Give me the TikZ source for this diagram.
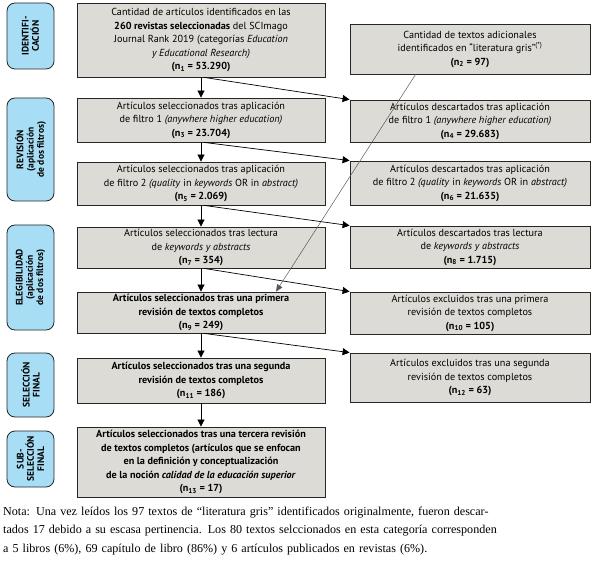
\documentclass[tikz,border=0pt]{standalone}
\usepackage{fontspec}
\setmainfont{Liberation Serif}
\newfontfamily\cajafont{PT Sans}
\usepackage{xcolor}
\usetikzlibrary{positioning, arrows.meta, calc}

\definecolor{grisbox}{RGB}{221,219,214}
\definecolor{celeste}{RGB}{168,222,245}

\begin{document}
\begin{tikzpicture}[x=1pt, y=-1pt,
		caja/.style={draw=black!85, fill=grisbox, line width=0.8pt, minimum width=248pt,
			align=center, inner sep=0pt, font=\cajafont\fontsize{10.2}{13.5}\selectfont},
		cajader/.style={caja, minimum width=240pt},
		fase/.style={draw=black!85, fill=celeste, line width=0.8pt, rounded corners=8pt,
			rotate=90, minimum height=47pt, align=center, inner sep=0pt,
			font=\cajafont\bfseries\fontsize{9.5}{10.2}\selectfont},
		flecha/.style={-{Triangle[length=7pt, width=7pt]}, line width=0.7pt},
		gris/.style={-{Triangle[length=7pt, width=6pt]}, line width=0.5pt, draw=black!65},
		]
		\useasboundingbox (0,0) rectangle (597,564);
		
		%% ── FASES ───────────────────────────────────────────────
		\node[fase, minimum width=66pt]  (F1) at (30.5,36)    {IDENTIFI-\\CACIÓN};
		\node[fase, minimum width=103pt] (F2) at (30.5,149.5) {REVISIÓN\\(aplicación\\de dos filtros)};
		\node[fase, minimum width=105pt] (F3) at (30.5,277.5) {ELEGIBILIDAD\\(aplicación\\de dos filtros)};
		\node[fase, minimum width=64pt]  (F4) at (30.5,385)   {SELECCIÓN\\FINAL};
		\node[fase, minimum width=56pt]  (F5) at (30.5,459)   {SUB-\\SELECCIÓN\\FINAL};
		
		%% ── COLUMNA IZQUIERDA ───────────────────────────────────
		\node[caja, minimum height=74pt] (L1) at (201,40) {Cantidad de artículos identificados en las\\
			\textbf{260 revistas seleccionadas} del SCImago\\
			Journal Rank 2019 (categorías \textit{Education}\\
			\textit{y Educational Research)}\\
			\textbf{(n\textsubscript{1} = 53.290)}};
		\node[caja, minimum height=44pt] (L3) at (201,120) {Artículos seleccionados tras aplicación\\
			de filtro 1 \textit{(anywhere higher education)}\\
			\textbf{(n\textsubscript{3} = 23.704)}};
		\node[caja, minimum height=43pt] (L5) at (201,183.5) {Artículos seleccionados tras aplicación\\
			de filtro 2 \textit{(quality} in \textit{keywords} OR in \textit{abstract)}\\
			\textbf{(n\textsubscript{5} = 2.069)}};
		\node[caja, minimum height=41pt] (L7) at (201,247.5) {Artículos seleccionados tras lectura\\
			de \textit{keywords y abstracts}\\
			\textbf{(n\textsubscript{7} = 354)}};
		\node[caja, minimum height=41pt] (L9) at (201,312.5) {\textbf{Artículos seleccionados tras una primera}\\
			\textbf{revisión de textos completos}\\
			\textbf{(n\textsubscript{9} = 249)}};
		\node[caja, minimum height=45pt] (L11) at (201,380.5) {\textbf{Artículos seleccionados tras una segunda}\\
			\textbf{revisión de textos completos}\\
			\textbf{(n\textsubscript{11} = 186)}};
		\node[caja, minimum height=70pt] (L13) at (201,462) {\textbf{Artículos seleccionados tras una tercera revisión}\\
			\textbf{de textos completos (artículos que se enfocan}\\
			\textbf{en la definición y conceptualización}\\
			\textbf{de la noción \textit{calidad de la educación superior}}\\
			\textbf{(n\textsubscript{13} = 17)}};
		
		%% ── COLUMNA DERECHA ─────────────────────────────────────
		\node[cajader, minimum height=50pt] (R2) at (470,49) {Cantidad de textos adicionales\\
			identificados en “literatura gris”\textsuperscript{(*)}\\
			\textbf{(n\textsubscript{2} = 97)}};
		\node[cajader, minimum height=42pt] (R4) at (470,121) {Artículos descartados tras aplicación\\
			de filtro 1 \textit{(anywhere higher education)}\\
			\textbf{(n\textsubscript{4} = 29.683)}};
		\node[cajader, minimum height=44pt] (R6) at (470,183) {Artículos descartados tras aplicación\\
			de filtro 2 \textit{(quality} in \textit{keywords} OR in \textit{abstract)}\\
			\textbf{(n\textsubscript{6} = 21.635)}};
		\node[cajader, minimum height=42pt] (R8) at (470,247) {Artículos descartados tras lectura\\
			de \textit{keywords y abstracts}\\
			\textbf{(n\textsubscript{8} = 1.715)}};
		\node[cajader, minimum height=42pt] (R10) at (470,313) {Artículos excluidos tras una primera\\
			revisión de textos completos\\
			\textbf{(n\textsubscript{10} = 105)}};
		\node[cajader, minimum height=49pt] (R12) at (470,377.5) {Artículos excluidos tras una segunda\\
			revisión de textos completos\\
			\textbf{(n\textsubscript{12} = 63)}};
		
		%% ── FLECHAS ─────────────────────────────────────────────
		\draw[flecha] (L1) -- (L3);
		\draw[flecha] (L3) -- (L5);
		\draw[flecha] (L5) -- (L7);
		\draw[flecha] (L7) -- (L9);
		\draw[flecha] (L9) -- (L11);
		\draw[flecha] (L11) -- (L13);
		
		% descartes
		\draw[flecha] ($(L1.south)+(3,0)$) -- (R4.north west);
		\draw[flecha] ($(L3.south)+(3,0)$) -- (R6.north west);
		\draw[flecha] ($(L5.south)+(3,0)$) -- (R8.north west);
		\draw[flecha] ($(L7.south)+(3,0)$) -- (R10.north west);
		\draw[flecha] ($(L9.south)+(3,0)$) -- (R12.north west);
		
		% literatura gris
		\coordinate (gA) at ($(R2.south west)+(66,0)$);
		\coordinate (gB) at ($(L9.north)+(75,0)$);
		\draw[gris] (gA) -- (gB);
		
		%% ── NOTA ────────────────────────────────────────────────
		\node[anchor=north west, inner sep=0pt, text width=591pt, align=left,
		font=\fontsize{12.1}{18.2}\selectfont] (nota) at (3,507)
		{\makebox[\linewidth][s]{Nota: Una vez leídos los 97 textos de “literatura gris” identificados originalmente, fueron descar-}\\
			\makebox[\linewidth][s]{tados 17 debido a su escasa pertinencia. Los 80 textos selccionados en esta categoría corresponden}\\
			a 5 libros (6\%), 69 capítulo de libro (86\%) y 6 artículos publicados en revistas (6\%).};
		
	\end{tikzpicture}
\end{document}
